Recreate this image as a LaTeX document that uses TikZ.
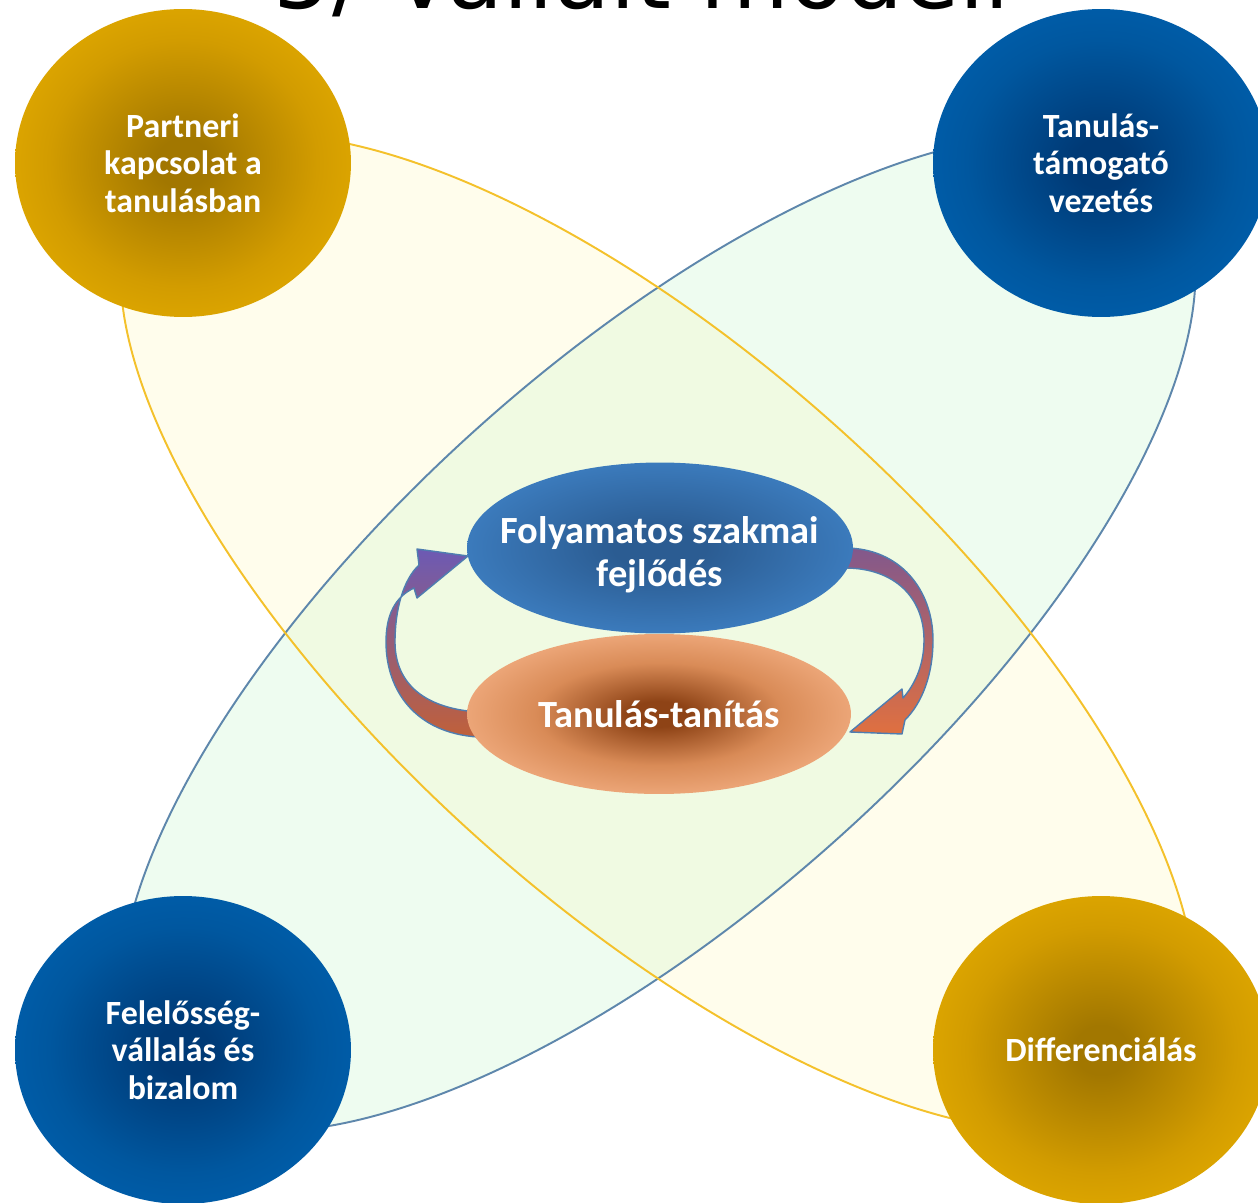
\documentclass[tikz,border=0pt]{standalone}
\usepackage{fontspec}
\usetikzlibrary{shapes.geometric}
\newfontfamily\carl{Carlito}
\newfontfamily\dejavu{DejaVu Sans}
\definecolor{yfill}{HTML}{FFFDEC}
\definecolor{bfill}{HTML}{EEFCF0}
\definecolor{ofill}{HTML}{F0FAE2}
\definecolor{yline}{HTML}{F4C12B}
\definecolor{bline}{HTML}{5E87AC}
\definecolor{golddk}{HTML}{A27700}
\definecolor{goldmd}{HTML}{D29C00}
\definecolor{goldlt}{HTML}{EEB500}
\definecolor{bluedk}{HTML}{003A76}
\definecolor{bluemd}{HTML}{00579F}
\definecolor{bluelt}{HTML}{0066B8}
\definecolor{cbdk}{HTML}{2B5C92}
\definecolor{cbmd}{HTML}{3C7CBE}
\definecolor{cblt}{HTML}{4B93D6}
\definecolor{ordk}{HTML}{8E4316}
\definecolor{ormd}{HTML}{D98B57}
\definecolor{orlt}{HTML}{F2AE82}
\definecolor{orlt2}{HTML}{F5BE98}
\definecolor{ored}{HTML}{F9D6C4}
\definecolor{arrline}{HTML}{4F7DB0}
\pgfdeclareradialshading{goldrad}{\pgfpoint{0bp}{0bp}}{color(0bp)=(golddk); color(4bp)=(golddk); color(20bp)=(goldmd); color(36bp)=(goldlt); color(50bp)=(goldlt)}
\pgfdeclareradialshading{bluerad}{\pgfpoint{0bp}{0bp}}{color(0bp)=(bluedk); color(4bp)=(bluedk); color(20bp)=(bluemd); color(36bp)=(bluelt); color(50bp)=(bluelt)}
\pgfdeclareradialshading{cbrad}{\pgfpoint{0bp}{0bp}}{color(0bp)=(cbdk); color(6bp)=(cbdk); color(26bp)=(cbmd); color(44bp)=(cblt); color(50bp)=(cblt)}
\pgfdeclareradialshading{orrad}{\pgfpoint{0bp}{0bp}}{color(0bp)=(ordk); color(4bp)=(ordk); color(16bp)=(ormd); color(28bp)=(orlt); color(42bp)=(orlt2); color(50bp)=(ored)}
\begin{document}
\begin{tikzpicture}[x=0.02cm,y=-0.02cm,
  ball/.style={shape=ellipse, minimum width=6.72cm, minimum height=6.16cm, inner sep=0pt, align=center, text=white, font=\carl\bfseries\fontsize{19.3}{21.3}\selectfont},
  goldball/.style={ball, shade, shading=goldrad},
  blueball/.style={ball, shade, shading=bluerad},
  midtext/.style={inner sep=0pt, align=center, text=white, font=\carl\bfseries\fontsize{21.9}{24.5}\selectfont},
  fejlball/.style={shape=ellipse, inner sep=0pt, minimum width=7.72cm, minimum height=3.42cm, shade, shading=cbrad},
  tanball/.style={shape=ellipse, midtext, minimum width=7.68cm, minimum height=3.2cm, shade, shading=orrad},
  bigell/.style={x radius=680, y radius=273},
  arrowshape/.style={draw=arrline, line width=0.8pt, line join=round},
]
\useasboundingbox (0,0) rectangle (1258,1203);
\fill[white] (0,0) rectangle (1258,1203);
% title (cut off at the top)
\node[font=\dejavu\fontsize{52}{60}\selectfont, anchor=base, inner sep=0pt] (title) at (642,9) {5/ Vállalt modell};
% large crossing ellipses
\coordinate (c) at (658,633);
\fill[yfill, rotate around={-42:(c)}] (c) ellipse [bigell];
\fill[bfill, rotate around={42:(c)}] (c) ellipse [bigell];
\begin{scope}
  \clip[rotate around={42:(c)}] (c) ellipse [bigell];
  \fill[ofill, rotate around={-42:(c)}] (c) ellipse [bigell];
\end{scope}
\draw[bline, line width=1.1pt, rotate around={42:(c)}] (c) ellipse [bigell];
\draw[yline, line width=1.1pt, rotate around={-42:(c)}] (c) ellipse [bigell];
% corner circles
\node[goldball] (partner) at (183,163) {Partneri\\kapcsolat a\\tanulásban};
\node[blueball] (vezetes) at (1101,163) {Tanulás-\\támogató\\vezetés};
\node[blueball] (felelos) at (183,1050) {Felelősség-\\vállalás és\\bizalom};
\node[goldball] (diff) at (1101,1050) {Differenciálás};
% curved block arrows
\path[arrowshape, top color={rgb,255:red,108;green,90;blue,180}, middle color={rgb,255:red,176;green,96;blue,118}, bottom color={rgb,255:red,192;green,96;blue,58}]
  (478,737) .. controls (415,733) and (386,690) .. (386,642)
  .. controls (386,615) and (395,597) .. (414,588)
  -- (417,598) -- (468,556) -- (417,549) -- (419,565)
  .. controls (403,580) and (395,610) .. (395,642)
  .. controls (395,680) and (420,708) .. (478,712) -- cycle;
\path[arrowshape, top color={rgb,255:red,130;green,88;blue,140}, middle color={rgb,255:red,84;green,88;blue,158}, bottom color={rgb,255:red,224;green,112;blue,64}]
  (845,548) .. controls (900,548) and (933,590) .. (933,640)
  .. controls (933,675) and (922,703) .. (905,720)
  -- (902,734) -- (850,732) -- (902,689) -- (903,698)
  .. controls (917,682) and (924,662) .. (924,640)
  .. controls (924,598) and (895,568) .. (845,568) -- cycle;
% central ellipses
\node[fejlball, label={[midtext, yshift=-0.14cm]center:{Folyamatos szakmai\\fejlődés}}] (fejl) at (660,548) {};
\node[tanball] (tan) at (659,714) {Tanulás-tanítás};
\end{tikzpicture}
\end{document}
